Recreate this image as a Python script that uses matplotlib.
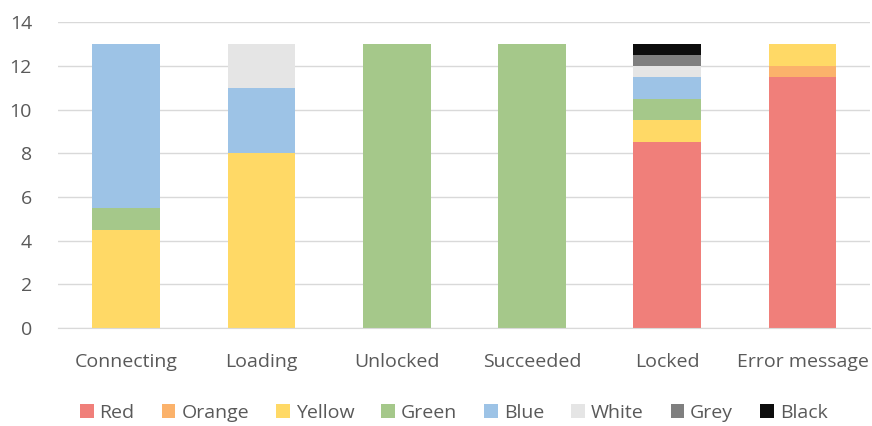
import matplotlib
matplotlib.use("Agg")
import matplotlib.pyplot as plt
import numpy as np

plt.rcParams["font.family"] = ["Open Sans", "DejaVu Sans"]

categories = ["Connecting", "Loading", "Unlocked", "Succeeded", "Locked", "Error message"]
series = ["Red", "Orange", "Yellow", "Green", "Blue", "White", "Grey", "Black"]
red = [0, 0, 0, 0, 8.5, 11.5]
orange = [0, 0, 0, 0, 0, 0.5]
yellow = [4.5, 8, 0, 0, 1, 1]
green = [1, 0, 13, 13, 1, 0]
blue = [7.5, 3, 0, 0, 1, 0]
white = [0, 2, 0, 0, 0.5, 0]
grey = [0, 0, 0, 0, 0.5, 0]
black = [0, 0, 0, 0, 0.5, 0]

values = [red, orange, yellow, green, blue, white, grey, black]
colors = ["#F07F7A", "#FBB26B", "#FFD966", "#A5C88A", "#9DC3E6", "#E5E5E5", "#7F7F7F", "#0D0D0D"]

fig = plt.figure(figsize=(8.72, 4.26), dpi=100)
ax = fig.add_axes([0.067, 0.23, 0.931, 0.718])

x = np.arange(len(categories))
bottom = np.zeros(len(categories))
for name, vals, col in zip(series, values, colors):
    ax.bar(x, vals, bottom=bottom, width=0.5, color=col, label=name, zorder=2)
    bottom += np.array(vals)

ax.set_ylim(0, 14)
ax.set_yticks(range(0, 15, 2))
ax.set_xlim(-0.5, len(categories) - 0.5)
ax.set_xticks(x)
ax.set_xticklabels(categories)
ax.yaxis.grid(True, color="#D9D9D9", linewidth=1, zorder=0)
for s in ["top", "right", "left"]:
    ax.spines[s].set_visible(False)
ax.spines["bottom"].set_color("#D9D9D9")
ax.tick_params(axis="both", length=0, labelsize=14, colors="#595959")
ax.tick_params(axis="x", pad=18)
ax.tick_params(axis="y", pad=19)

ax.legend(loc="upper center", bbox_to_anchor=(0.487, -0.19), ncol=8, frameon=False,
          fontsize=14, handlelength=0.7, handleheight=0.7, handletextpad=0.3,
          columnspacing=1.4, labelcolor="#595959")

fig.savefig("out.png", dpi=100)
